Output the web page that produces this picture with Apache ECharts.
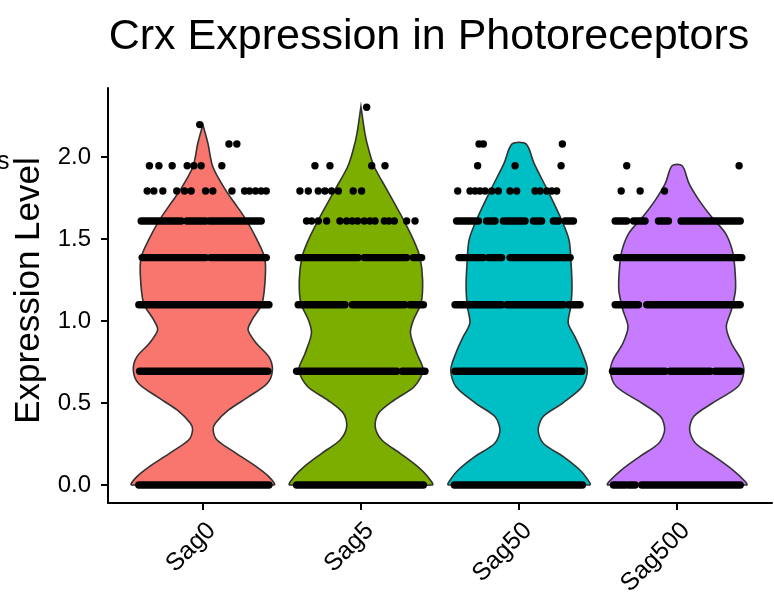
<!DOCTYPE html>
<html>
<head>
<meta charset="utf-8">
<script src="https://cdn.jsdelivr.net/npm/echarts@6/dist/echarts.min.js"></script>
<style>
html, body {margin: 0; padding: 0; background: #fff;}
#main {width: 774px; height: 596px;}
</style>
</head>
<body>
<div id="main"></div>
<script>
const categories = ['Sag0', 'Sag5', 'Sag50', 'Sag500'];
const colors = ['#F8766D', '#7CAE00', '#00BFC4', '#C77CFF'];
const yTicks = [0, 0.5, 1, 1.5, 2];

// violin outline: [expression level, half width as share of one category]
const violinSag0 = [[0, 0.45], [0.051, 0.417], [0.112, 0.338], [0.193, 0.211], [0.274, 0.09], [0.335, 0.065],
    [0.376, 0.079], [0.457, 0.163], [0.538, 0.29], [0.62, 0.408], [0.701, 0.44], [0.782, 0.417], [0.864, 0.338],
    [0.945, 0.286], [1.006, 0.311], [1.108, 0.375], [1.291, 0.396], [1.392, 0.389], [1.494, 0.343], [1.616, 0.274],
    [1.72, 0.2], [1.80, 0.142], [1.94, 0.063], [2.083, 0.032], [2.197, 0]];
const violinSag5 = [[0, 0.45], [0.051, 0.422], [0.112, 0.359], [0.193, 0.248], [0.274, 0.132], [0.356, 0.09],
    [0.437, 0.111], [0.518, 0.211], [0.6, 0.338], [0.701, 0.393], [0.803, 0.353], [0.925, 0.313], [1.006, 0.332],
    [1.108, 0.38], [1.25, 0.39], [1.392, 0.372], [1.494, 0.332], [1.616, 0.269], [1.80, 0.164], [1.94, 0.084],
    [2.04, 0.05], [2.144, 0.025], [2.307, 0]];
const violinSag50 = [[0, 0.448], [0.02, 0.443], [0.091, 0.385], [0.173, 0.28], [0.254, 0.153], [0.335, 0.121],
    [0.417, 0.153], [0.498, 0.274], [0.6, 0.4], [0.701, 0.432], [0.803, 0.4], [0.904, 0.353], [0.986, 0.311],
    [1.087, 0.327], [1.209, 0.335], [1.351, 0.329], [1.494, 0.316], [1.616, 0.269], [1.799, 0.179], [1.961, 0.095],
    [2.079, 0.044]];
const violinSag500 = [[0, 0.44], [0.02, 0.432], [0.091, 0.353], [0.173, 0.237], [0.254, 0.116], [0.335, 0.079],
    [0.417, 0.105], [0.498, 0.222], [0.6, 0.385], [0.69, 0.422], [0.762, 0.406], [0.864, 0.343], [0.965, 0.311],
    [1.067, 0.343], [1.189, 0.369], [1.331, 0.364], [1.433, 0.348], [1.534, 0.306], [1.636, 0.216], [1.738, 0.137],
    [1.84, 0.074], [1.946, 0.032]];

// single cells: [level, jitter offset]
const dotsSag0 = [[2.197, -0.02], [2.079, 0.165], [2.079, 0.215],
    [1.946, -0.338], [1.946, -0.278], [1.946, -0.194], [1.946, -0.099], [1.946, -0.057], [1.946, -0.011], [1.946, 0.12],
    [1.792, -0.352], [1.792, -0.31], [1.792, -0.253], [1.792, -0.165], [1.792, -0.116], [1.792, -0.074], [1.792, 0.017],
    [1.792, 0.063], [1.792, 0.184], [1.792, 0.264], [1.792, 0.295], [1.792, 0.333], [1.792, 0.369], [1.792, 0.401]];
const dotsSag5 = [[2.303, 0.036],
    [1.946, -0.291], [1.946, -0.196], [1.946, 0.068], [1.946, 0.152],
    [1.792, -0.386], [1.792, -0.333], [1.792, -0.27], [1.792, -0.228], [1.792, -0.186], [1.792, -0.143], [1.792, -0.049], [1.792, 0.004],
    [1.609, -0.344], [1.609, -0.312], [1.609, -0.27], [1.609, -0.217], [1.609, -0.133], [1.609, -0.091], [1.609, -0.055],
    [1.609, -0.021], [1.609, 0.021], [1.609, 0.057], [1.609, 0.089], [1.609, 0.148], [1.609, 0.177], [1.609, 0.211],
    [1.609, 0.289], [1.609, 0.342]];
const dotsSag50 = [[2.079, -0.253], [2.079, -0.226], [2.079, 0.274],
    [1.946, -0.262], [1.946, -0.025], [1.946, 0.266],
    [1.792, -0.388], [1.792, -0.31], [1.792, -0.278], [1.792, -0.247], [1.792, -0.215], [1.792, -0.173], [1.792, -0.131],
    [1.792, -0.057], [1.792, -0.015], [1.792, 0.101], [1.792, 0.133], [1.792, 0.175], [1.792, 0.207], [1.792, 0.238]];
const dotsSag500 = [[1.946, -0.319], [1.946, 0.392],
    [1.792, -0.354], [1.792, -0.234], [1.792, -0.08]];

// packed rows of cells: [level, from offset, to offset]
const runsSag0 = [[1.609, -0.39, -0.137], [1.609, -0.101, 0.017], [1.609, 0.042, 0.369],
    [1.386, -0.384, 0.017], [1.386, 0.049, 0.401],
    [1.099, -0.405, 0.418], [0.693, -0.40, 0.411], [0, -0.405, 0.418]];
const runsSag5 = [[1.386, -0.397, -0.017], [1.386, 0.021, 0.289], [1.386, 0.331, 0.384],
    [1.099, -0.397, -0.101], [1.099, -0.055, 0.278], [1.099, 0.31, 0.395],
    [0.693, -0.407, 0.226], [0.693, 0.262, 0.405], [0, -0.407, 0.395]];
const runsSag50 = [[1.609, -0.395, -0.257], [1.609, -0.205, -0.152], [1.609, -0.099, 0.038], [1.609, 0.091, 0.143],
    [1.609, 0.217, 0.249], [1.609, 0.291, 0.344],
    [1.386, -0.38, -0.226], [1.386, -0.194, -0.11], [1.386, -0.057, 0.323],
    [1.099, -0.405, -0.11], [1.099, -0.078, 0.281], [1.099, 0.312, 0.386],
    [0.693, -0.405, 0.397], [0, -0.409, 0.401]];
const runsSag500 = [[1.609, -0.392, -0.319], [1.609, -0.276, -0.203], [1.609, -0.118, -0.055], [1.609, 0.025, 0.399],
    [1.386, -0.382, 0.409],
    [1.099, -0.392, -0.245], [1.099, -0.192, 0.399],
    [0.693, -0.409, -0.076], [0.693, -0.044, 0.209], [0.693, 0.241, 0.399],
    [0, -0.403, -0.329], [0, -0.308, -0.266], [0, -0.224, 0.399]];

const violins = [violinSag0, violinSag5, violinSag50, violinSag500];
const dots = [dotsSag0, dotsSag5, dotsSag50, dotsSag500];
const runs = [runsSag0, runsSag5, runsSag50, runsSag500];

const font = '"Liberation Sans", Arial, Helvetica, sans-serif';

let violinData = categories.map((c, i) => [i]);
let cellData = [];
categories.forEach((c, i) => {
    runs[i].forEach(r => cellData.push([i, r[0], r[1], r[2]]));
    dots[i].forEach(d => cellData.push([i, d[0], d[1], d[1]]));
});

let myChart = echarts.init(document.getElementById('main'), null, {renderer: 'canvas'});

let option = {
    animation: false,
    backgroundColor: '#fff',
    title: {
        text: 'Crx Expression in Photoreceptors',
        left: 424,
        top: 11,
        textAlign: 'center',
        textStyle: {fontFamily: font, fontSize: 43, fontWeight: 'normal', color: '#000'}
    },
    graphic: [{
        type: 'text', left: -3, top: 150,
        style: {text: 's', fontFamily: font, fontSize: 25, fill: '#000'}
    }],
    grid: {left: 108, right: 2, top: 88, bottom: 93, outerBoundsMode: 'none', containLabel: false},
    xAxis: {
        type: 'value',
        min: -0.6,
        max: 3.6,
        splitLine: {show: false},
        axisLine: {onZero: false, lineStyle: {color: '#000', width: 2}},
        axisTick: {show: true, length: 7, lineStyle: {color: '#000', width: 2}, customValues: [0, 1, 2, 3]},
        axisLabel: {
            customValues: [0, 1, 2, 3],
            formatter: v => categories[Math.round(v)],
            rotate: 45,
            align: 'right',
            verticalAlign: 'top',
            margin: 15,
            fontFamily: font,
            fontSize: 25,
            color: '#000'
        }
    },
    yAxis: {
        type: 'value',
        min: -0.11,
        max: 2.42,
        name: 'Expression Level',
        nameLocation: 'middle',
        nameGap: 60,
        nameTextStyle: {fontFamily: font, fontSize: 35, color: '#000', padding: [0, 0, 0, 10]},
        splitLine: {show: false},
        axisLine: {show: true, onZero: false, lineStyle: {color: '#000', width: 2}},
        axisTick: {show: true, length: 7, lineStyle: {color: '#000', width: 2}, customValues: yTicks},
        axisLabel: {
            customValues: yTicks,
            formatter: v => v.toFixed(1),
            margin: 17,
            fontFamily: font,
            fontSize: 24,
            color: '#000'
        }
    },
    series: [
        {
            type: 'custom',
            name: 'violin',
            data: violinData,
            z: 2,
            renderItem: (params, api) => {
                let i = api.value(0);
                let prof = violins[i];
                let right = prof.map(p => api.coord([i + p[1], p[0]]));
                let left = prof.slice().reverse().map(p => api.coord([i - p[1], p[0]]));
                return {
                    type: 'polygon',
                    shape: {points: right.concat(left), smooth: 0.3},
                    style: {fill: colors[i], stroke: '#333333', lineWidth: 1.6}
                };
            }
        },
        {
            type: 'custom',
            name: 'cells',
            data: cellData,
            z: 3,
            renderItem: (params, api) => {
                let i = api.value(0);
                let p0 = api.coord([i + api.value(2), api.value(1)]);
                let p1 = api.coord([i + api.value(3), api.value(1)]);
                if (api.value(2) === api.value(3)) {
                    return {type: 'circle', shape: {cx: p0[0], cy: p0[1], r: 3.7}, style: {fill: '#000'}};
                }
                return {
                    type: 'line',
                    shape: {x1: p0[0], y1: p0[1], x2: p1[0], y2: p1[1]},
                    style: {stroke: '#000', lineWidth: 7.4, lineCap: 'round'}
                };
            }
        }
    ]
};
myChart.setOption(option);
</script>
</body>
</html>
